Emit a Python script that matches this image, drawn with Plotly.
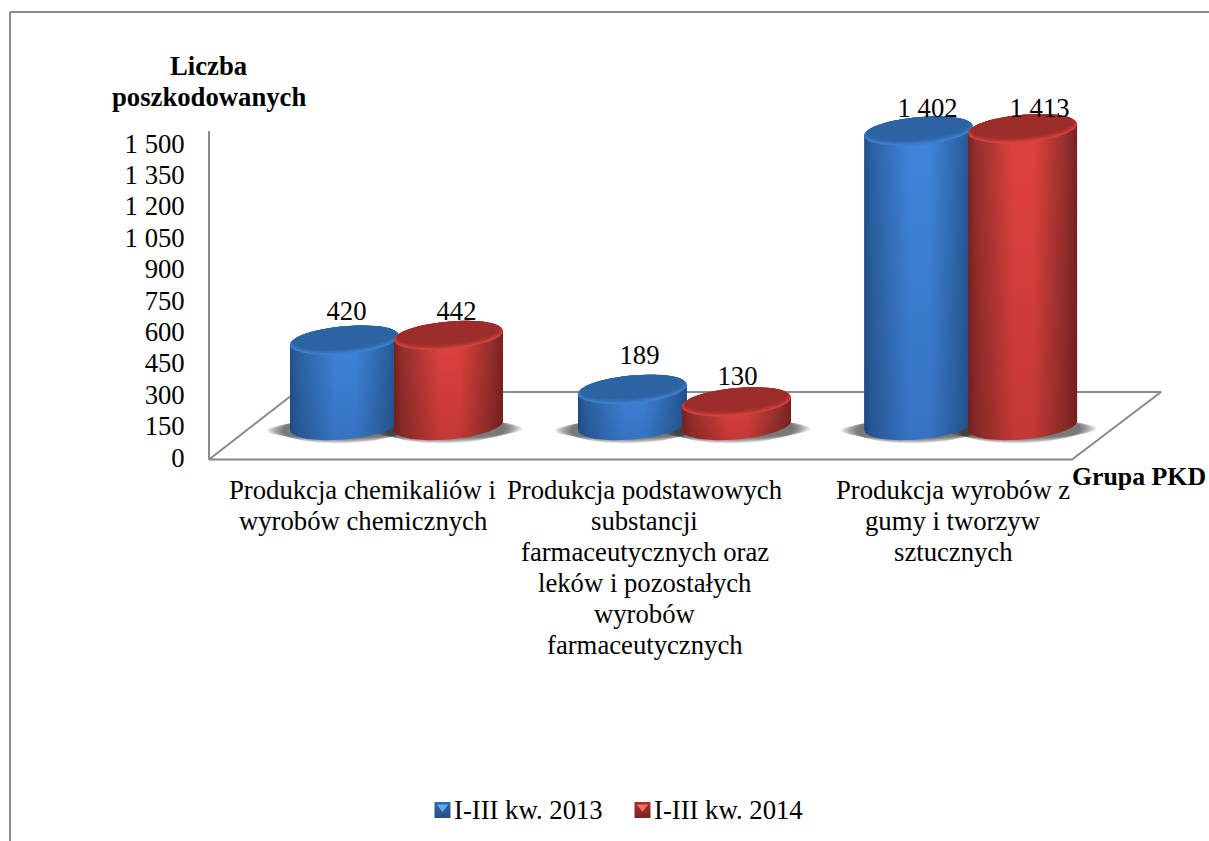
import numpy as np
import plotly.graph_objects as go

# ---------- data ----------
category_lines = [
    ["Produkcja chemikaliów i", "wyrobów chemicznych"],
    ["Produkcja podstawowych", "substancji", "farmaceutycznych oraz", "leków i pozostałych", "wyrobów", "farmaceutycznych"],
    ["Produkcja wyrobów z", "gumy i tworzyw", "sztucznych"],
]
series_names = ["I-III kw. 2013", "I-III kw. 2014"]
values_2013 = [420, 189, 1402]
values_2014 = [442, 130, 1413]
y_ticks = [0, 150, 300, 450, 600, 750, 900, 1050, 1200, 1350, 1500]
y_title_lines = ["Liczba", "poszkodowanych"]
x_title = "Grupa PKD"

# ---------- styling / geometry (pixels) ----------
W, H = 1209, 841
L, R, T, B = 208, 1209, 90, 841   # plot area (reaches the legend so it needs no margin push)
AXIS_TOP, AXIS_BOTTOM = 131, 460
PX_PER_CAT = 288.0
PX_PER_UNIT = 314.0 / 1500.0
Y0_PX = 457.2
FONT = "Liberation Serif"
FS = 26.7
BLACK = "#000000"
GRAY = "#8a8a8a"

xmin = -0.5
xmax = xmin + (R - L) / PX_PER_CAT
ymin = (Y0_PX - B) / PX_PER_UNIT
ymax = (Y0_PX - T) / PX_PER_UNIT


def dx(px):
    return px / PX_PER_CAT


def dy(px):
    return px / PX_PER_UNIT


def X(px_):
    return xmin + dx(px_ - L)


def Y(px_):
    return dy(Y0_PX - px_)


PAIR_CENTER = [0.1545, 1.1545, 2.1480]
HALF_GAP = dx(52.0)
A = 54.5          # ellipse half-width, px
Bb = 14.0         # ellipse half-height, px
TILT = 4.5        # rise of the right end, px
BOTTOM_Y = Y(425.5)
TOP_Y0 = Y(429.7)
HEIGHT_K = 0.213 / PX_PER_UNIT

styles = [
    dict(edgeL="#2c62a2", mid="#4086dc", edgeR="#23508a", tint="rgba(15,40,90,0.2)",
         rim=["#3c7ecc", "#3673bb", "#2f69ac", "#2b63a3"]),
    dict(edgeL="#93302d", mid="#e2433f", edgeR="#7c2221", tint="rgba(70,10,10,0.2)",
         rim=["#cf423e", "#bb3835", "#a8302d", "#9d2d2a"]),
]


def ellipse(cx, cy, a=A, b=Bb, tilt=TILT, t0=0.0, t1=2 * np.pi, n=72):
    t = np.linspace(t0, t1, n)
    xs = cx + dx(a) * np.cos(t)
    ys = cy + dy(b) * np.sin(t) + dy(tilt) * np.cos(t)
    return xs, ys


def fill_trace(xs, ys, **kw):
    return go.Scatter(x=xs, y=ys, mode="lines", fill="toself", line=dict(width=0),
                      hoverinfo="skip", showlegend=False, cliponaxis=False, **kw)


fig = go.Figure()

# floor outline and vertical axis line
fx = [X(L + 1), X(1072), X(1161), X(296), X(L + 1), X(L + 1)]
fy = [Y(459.5), Y(459.5), Y(392), Y(392), Y(459.5), Y(AXIS_TOP)]
fig.add_trace(go.Scatter(x=fx, y=fy, mode="lines", line=dict(color=GRAY, width=2),
                         hoverinfo="skip", showlegend=False, cliponaxis=False))

all_values = [values_2013, values_2014]
centers = [[c - HALF_GAP for c in PAIR_CENTER], [c + HALF_GAP for c in PAIR_CENTER]]

# blurred floor shadows
for s in range(2):
    for i in range(3):
        for k in range(10):
            f = k / 9
            xs, ys = ellipse(centers[s][i] + dx(-2), BOTTOM_Y + dy(-4),
                             a=76 - 16 * f, b=9 + 5 * f, tilt=1.0)
            fig.add_trace(fill_trace(xs, ys, fillcolor="rgba(40,40,40,0.085)"))

# cylinders
for i in range(3):
    for s in range(2):
        st = styles[s]
        c = centers[s][i]
        v = all_values[s][i]
        ytop = TOP_Y0 + HEIGHT_K * v
        xb, yb = ellipse(c, BOTTOM_Y, t0=np.pi, t1=2 * np.pi, n=48)
        xt, yt = ellipse(c, ytop, t0=0.0, t1=np.pi, n=48)
        xs = np.concatenate([xb, xt, xb[:1]])
        ys = np.concatenate([yb, yt, yb[:1]])
        fig.add_trace(fill_trace(xs, ys, fillcolor=st["mid"], fillgradient=dict(
            type="horizontal",
            colorscale=[[0, st["edgeR"]], [0.07, st["edgeL"]], [0.42, st["mid"]], [0.6, st["mid"]],
                        [0.9, st["edgeL"]], [1, st["edgeR"]]])))
        fig.add_trace(fill_trace(xs, ys, fillcolor="rgba(0,0,0,0.1)", fillgradient=dict(
            type="vertical",
            colorscale=[[0, st["tint"]], [1, st["tint"].rsplit(",", 1)[0] + ",0)"]])))
        # bevelled top, stepped from the rim to the darker face
        for k, col in enumerate(st["rim"]):
            xr, yr = ellipse(c, ytop + dy(0.9 * k), a=A - 1.0 * k, b=Bb - 0.9 * k)
            fig.add_trace(fill_trace(xr, yr, fillcolor=col))

# data labels
label_nudge_px = [[27, 22], [32, 24], [21, 18]]
label_dx_px = [[2, 8], [7, 1], [9, 17]]
label_x, label_y, label_text = [], [], []
for s in range(2):
    for i in range(3):
        v = all_values[s][i]
        label_x.append(centers[s][i] + dx(label_dx_px[i][s]))
        label_y.append(TOP_Y0 + HEIGHT_K * v + dy(label_nudge_px[i][s]))
        label_text.append(f"{v:,}".replace(",", " "))
fig.add_trace(go.Scatter(x=label_x, y=label_y, text=label_text, mode="text",
                         textposition="middle center", cliponaxis=False,
                         textfont=dict(family=FONT, size=FS, color=BLACK),
                         hoverinfo="skip", showlegend=False))

annotations = []

# legend: swatches and their names
legend_px = [442.5, 642.5]
legend_y = 810
swatches = [("#2f67ab", "#24508a", "#5fabef"), ("#a5302d", "#7d2221", "#ee6f69")]
for name, xp, (c0, c1, hi) in zip(series_names, legend_px, swatches):
    fig.add_trace(go.Scatter(x=[X(xp)], y=[Y(legend_y)], mode="markers", name=name,
                             showlegend=False, hoverinfo="skip", cliponaxis=False,
                             marker=dict(symbol="square", size=16, color=c0, line=dict(width=0),
                                         gradient=dict(type="vertical", color=c1))))
    fig.add_trace(go.Scatter(x=[X(xp)], y=[Y(legend_y - 3)], mode="markers",
                             showlegend=False, hoverinfo="skip", cliponaxis=False,
                             marker=dict(symbol="triangle-down", size=10, color=hi, line=dict(width=0))))
    annotations.append(dict(x=X(xp + 11), y=Y(legend_y), xref="x", yref="y", text=name,
                            showarrow=False, xanchor="left", yanchor="middle", borderpad=0, borderwidth=0,
                            font=dict(family=FONT, size=FS, color=BLACK)))

# category labels, line by line
label_centers = [0.038, 1.017, 2.087]
for i, lines in enumerate(category_lines):
    for j, line in enumerate(lines):
        annotations.append(dict(x=label_centers[i], y=Y(AXIS_BOTTOM), xref="x", yref="y", text=line,
                                showarrow=False, xanchor="center", yanchor="middle",
                                yshift=-(29.5 + 31 * j),
                                font=dict(family=FONT, size=FS, color=BLACK)))


def px(x):
    return (x - L) / (R - L)


def py(y):
    return (B - y) / (B - T)


for line, yc in zip(y_title_lines, [66, 97]):
    annotations.append(dict(x=px(208.5), y=py(yc), xref="paper", yref="paper", text=f"<b>{line}</b>",
                            showarrow=False, xanchor="center", yanchor="middle",
                            font=dict(family=FONT, size=FS, color=BLACK)))
annotations.append(dict(x=px(1070), y=py(476), xref="paper", yref="paper", text=f"<b>{x_title}</b>",
                        showarrow=False, xanchor="left", yanchor="middle",
                        font=dict(family=FONT, size=25.8, color=BLACK)))

shapes = [
    dict(type="line", xref="paper", yref="paper", x0=px(10), x1=px(10), y0=py(12), y1=py(H + 2),
         line=dict(color=GRAY, width=2)),
    dict(type="line", xref="paper", yref="paper", x0=px(10), x1=px(W + 2), y0=py(12), y1=py(12),
         line=dict(color=GRAY, width=2)),
]

fig.update_layout(
    width=W, height=H, autosize=False, showlegend=False,
    margin=dict(l=L, r=W - R, t=T, b=H - B, pad=0),
    paper_bgcolor="white", plot_bgcolor="white",
    separators=", ",
    font=dict(family=FONT, size=FS, color=BLACK),
    xaxis=dict(range=[xmin, xmax], showgrid=False, zeroline=False, showline=False,
               showticklabels=False, ticks="", fixedrange=True),
    yaxis=dict(range=[ymin, ymax], showgrid=False, zeroline=False, showline=False,
               tickmode="array", tickvals=y_ticks,
               tickformat=",d", ticks="outside", ticklen=17, tickcolor="rgba(0,0,0,0)",
               tickfont=dict(family=FONT, size=FS, color=BLACK), fixedrange=True),
    annotations=annotations, shapes=shapes,
)

fig.write_html("out.html", config={"displayModeBar": False},
               post_script="document.body.style.margin='0';document.body.style.overflow='hidden';")
